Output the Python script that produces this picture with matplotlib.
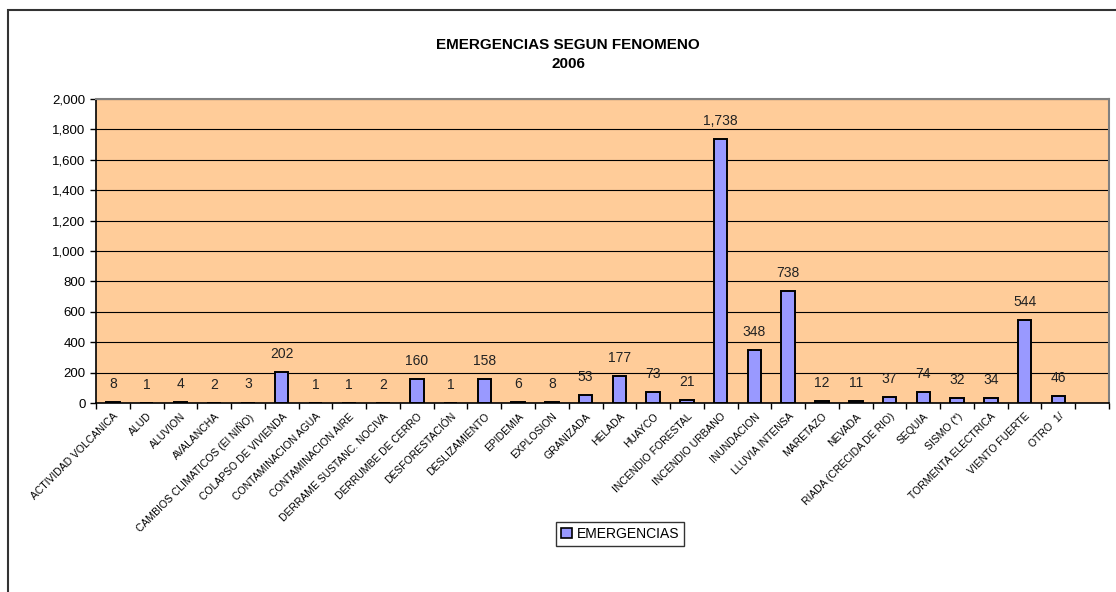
import matplotlib
matplotlib.use("Agg")
import matplotlib.pyplot as plt
import numpy as np
from matplotlib.patches import Rectangle

plt.rcParams["font.family"] = ["Liberation Sans", "DejaVu Sans"]

CATEGORIES = [
    "ACTIVIDAD VOLCANICA", "ALUD", "ALUVION", "AVALANCHA",
    "CAMBIOS CLIMATICOS (El NIÑO)", "COLAPSO DE VIVIENDA", "CONTAMINACION AGUA",
    "CONTAMINACION AIRE", "DERRAME SUSTANC. NOCIVA", "DERRUMBE DE CERRO",
    "DESFORESTACIÓN", "DESLIZAMIENTO", "EPIDEMIA", "EXPLOSION", "GRANIZADA",
    "HELADA", "HUAYCO", "INCENDIO FORESTAL", "INCENDIO URBANO", "INUNDACION",
    "LLUVIA INTENSA", "MARETAZO", "NEVADA", "RIADA (CRECIDA DE RIO)", "SEQUIA",
    "SISMO (*)", "TORMENTA ELECTRICA", "VIENTO FUERTE", "OTRO  1/", "",
]
VALUES = [
    8, 1, 4, 2, 3, 202, 1, 1, 2, 160,
    1, 158, 6, 8, 53, 177, 73, 21, 1738, 348,
    738, 12, 11, 37, 74, 32, 34, 544, 46, np.nan,
]
SERIES_NAME = "EMERGENCIAS"
TITLE = "EMERGENCIAS SEGUN FENOMENO\n2006"

BAR_COLOR = "#9999FF"
PLOT_BG = "#FFCC99"

W, H = 1116, 592
fig = plt.figure(figsize=(W / 100, H / 100), dpi=100)

# outer chart frame (right and bottom edges fall outside the picture)
fig.patches.append(Rectangle((8 / W, -0.05), 1.2, (H - 10) / H + 0.05,
                             transform=fig.transFigure, fill=False,
                             edgecolor="#333333", linewidth=1.5))

ax = fig.add_axes([96 / W, (H - 403) / H, (1109 - 96) / W, (403 - 99) / H])
ax.set_facecolor(PLOT_BG)

x = np.arange(len(CATEGORIES))
ax.bar(x, VALUES, width=0.4, color=BAR_COLOR, edgecolor="black", linewidth=1.4, zorder=3)

for xi, v in zip(x, VALUES):
    if np.isnan(v):
        continue
    ax.annotate(f"{int(v):,}", xy=(xi, v), xytext=(0, 8), textcoords="offset points",
                ha="center", va="bottom", fontsize=10, color="#222222")

ax.set_xlim(-0.5, len(CATEGORIES) - 0.5)
ax.set_ylim(0, 2000)
ax.set_yticks(np.arange(0, 2001, 200))
ax.set_yticklabels([f"{v:,}" for v in range(0, 2001, 200)], fontsize=9.5)
ax.yaxis.grid(True, color="black", linewidth=0.8, zorder=1)
ax.set_axisbelow(True)

ax.set_xticks(x)
ax.set_xticklabels(CATEGORIES, rotation=45, ha="right", rotation_mode="anchor", fontsize=7.5)
ax.set_xticks(np.arange(-0.5, len(CATEGORIES)), minor=True)
ax.tick_params(axis="x", which="major", length=0, pad=6)
ax.tick_params(axis="x", which="minor", length=4, width=1, color="black")
ax.tick_params(axis="y", length=4, width=1, color="black")

for side in ("top", "right"):
    ax.spines[side].set_color("#808080")
    ax.spines[side].set_linewidth(1.5)
for side in ("left", "bottom"):
    ax.spines[side].set_color("black")
    ax.spines[side].set_linewidth(1.2)

fig.text(568 / W, 1 - 38 / H, TITLE, ha="center", va="top", fontsize=11,
         fontweight="bold", linespacing=1.5)

handle = Rectangle((0, 0), 1, 1, facecolor=BAR_COLOR, edgecolor="black", linewidth=1.2)
fig.legend([handle], [SERIES_NAME], loc="center", bbox_to_anchor=(620 / W, 1 - 534 / H),
           fontsize=10, frameon=True, fancybox=False, edgecolor="black",
           handlelength=0.8, handleheight=0.8, handletextpad=0.3, borderpad=0.35)
fig.legends[0].get_frame().set_linewidth(1.0)

fig.savefig("out.png", dpi=100)
